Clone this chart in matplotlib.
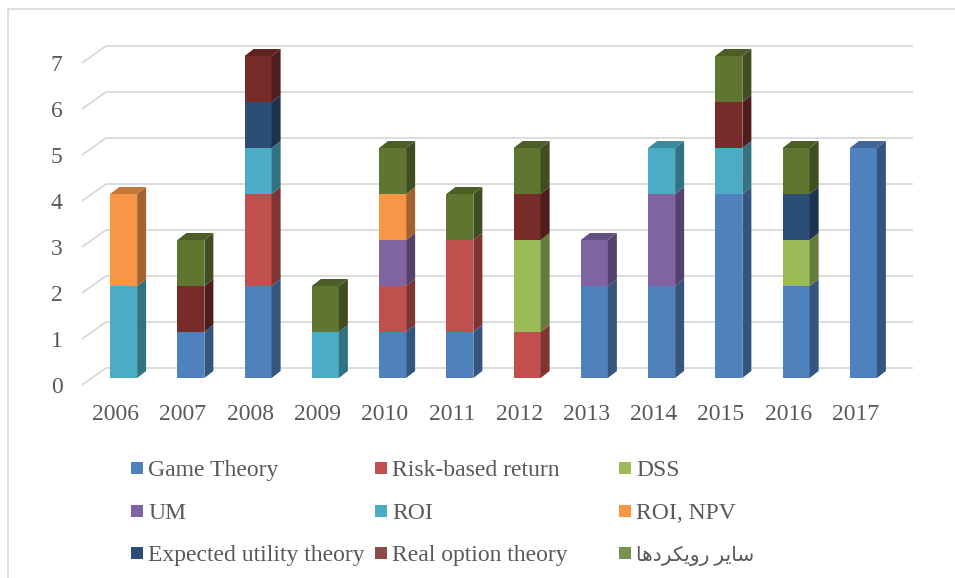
import matplotlib
matplotlib.use("Agg")
import matplotlib.pyplot as plt
from matplotlib.patches import Polygon, Rectangle
import numpy as np

# ---------------- data ----------------
years = ["2006", "2007", "2008", "2009", "2010", "2011",
         "2012", "2013", "2014", "2015", "2016", "2017"]
series_names = ["Game Theory", "Risk-based return", "DSS",
                "UM", "ROI", "ROI, NPV",
                "Expected utility theory", "Real option theory",
                "سایر رویکردها"]
game_theory = [0, 1, 2, 0, 1, 1, 0, 2, 2, 4, 2, 5]
risk_based  = [0, 0, 2, 0, 1, 2, 1, 0, 0, 0, 0, 0]
dss         = [0, 0, 0, 0, 0, 0, 2, 0, 0, 0, 1, 0]
um          = [0, 0, 0, 0, 1, 0, 0, 1, 2, 0, 0, 0]
roi         = [2, 0, 1, 1, 0, 0, 0, 0, 1, 1, 0, 0]
roi_npv     = [2, 0, 0, 0, 1, 0, 0, 0, 0, 0, 0, 0]
expected    = [0, 0, 1, 0, 0, 0, 0, 0, 0, 0, 1, 0]
real_option = [0, 1, 1, 0, 0, 0, 1, 0, 0, 1, 0, 0]
other       = [0, 1, 0, 1, 1, 1, 1, 0, 0, 1, 1, 0]
y_ticks = [0, 1, 2, 3, 4, 5, 6, 7]

series_values = [game_theory, risk_based, dss, um, roi, roi_npv,
                 expected, real_option, other]
colors = ["#4F81BD", "#C0504D", "#9BBB59", "#8064A2", "#4BACC6",
          "#F79646", "#2C4D75", "#772C2A", "#5F7530"]
legend_colors = ["#4F81BD", "#C0504D", "#9BBB59", "#8064A2", "#4BACC6",
                 "#F79646", "#2C4D75", "#8C4A48", "#77924F"]

# Persian label shaped into presentation forms (visual order) since
# matplotlib performs no Arabic shaping / bidi reordering
persian_visual = ("\uFE8E\uFEEB\uFEA9\uFEAE\uFB91\uFBFE\uFEED\uFEAD"
                  " \uFEAE\uFBFE\uFE8E\uFEB3")
display_names = series_names[:-1] + [persian_visual]

# ---------------- style ----------------
W, H = 955, 578
FONT = ["Liberation Serif", "DejaVu Sans"]
TXT = "#595959"
GRID = "#D9D9D9"
FS = 17
plt.rcParams["font.family"] = FONT

fig = plt.figure(figsize=(W / 100, H / 100), dpi=100)
fig.patch.set_facecolor("white")

# outer chart border
fig.patches.append(Rectangle((8 / W, -0.1), 2.0, 1 - 9 / H + 0.1,
                             transform=fig.transFigure, fill=False,
                             ec=GRID, lw=1.2))

ax_left, ax_right = 82, 889
ax_bottom, ax_top = 385, 40
ax = fig.add_axes([ax_left / W, (H - ax_bottom) / H,
                   (ax_right - ax_left) / W, (ax_bottom - ax_top) / H])
n = len(years)
ax.set_xlim(-0.5, n - 0.5)
ax.set_ylim(0, 7.5)
PX_X = (ax_right - ax_left) / n          # px per x unit
PX_Y = (ax_bottom - ax_top) / 7.5        # px per y unit

for s in ax.spines.values():
    s.set_visible(False)
ax.set_facecolor("none")

# back-wall offset (pseudo 3D)
bx, by = 24 / PX_X, 17 / PX_Y
for v in y_ticks:
    ax.plot([-0.5, -0.5 + bx], [v, v + by], color=GRID, lw=1.3,
            clip_on=False, zorder=1, solid_capstyle="butt")
    ax.plot([-0.5 + bx, n - 0.5 + bx], [v + by, v + by], color=GRID,
            lw=1.3, clip_on=False, zorder=1, solid_capstyle="butt")

# bars
fx, fy = 8 / PX_X, 7 / PX_Y          # front face offset
bw = 27 / PX_X                       # bar width
dx, dy = 9 / PX_X, 7 / PX_Y          # depth of bar


def shade(c, f):
    r, g, b = matplotlib.colors.to_rgb(c)
    return (r * f, g * f, b * f)


x = np.arange(n)
bottoms = np.zeros(n)
totals = np.sum(np.array(series_values), axis=0)
for j, vals in enumerate(series_values):
    vals = np.array(vals, dtype=float)
    c = colors[j]
    z = 3 + j
    ax.bar(x + fx, vals, width=bw, bottom=bottoms + fy, color=c,
           linewidth=0, zorder=z)
    for i in range(n):
        if vals[i] <= 0:
            continue
        L = x[i] + fx - bw / 2
        R = x[i] + fx + bw / 2
        b = bottoms[i] + fy
        t = bottoms[i] + vals[i] + fy
        ax.add_patch(Polygon([(R, b), (R + dx, b + dy), (R + dx, t + dy),
                              (R, t)], closed=True, fc=shade(c, 0.66),
                             lw=0, zorder=z))
        if np.isclose(bottoms[i] + vals[i], totals[i]):
            ax.add_patch(Polygon([(L, t), (R, t), (R + dx, t + dy),
                                  (L + dx, t + dy)], closed=True,
                                 fc=shade(c, 0.8), lw=0, zorder=z + 20))
    bottoms = bottoms + vals

# ticks
ax.set_xticks(x)
ax.set_xticklabels(years)
ax.set_yticks(y_ticks)
ax.set_yticklabels([str(v) for v in y_ticks])
ax.tick_params(axis="x", length=0, pad=13.5, labelsize=FS, colors=TXT)
ax.tick_params(axis="y", length=0, pad=14, labelsize=FS, colors=TXT)

# legend (3 x 3 grid, equal column widths)
col_x = [131, 375, 619]
row_y = [468, 511, 553]
sq = 12
for k, name in enumerate(display_names):
    r, cidx = divmod(k, 3)
    mx, my = col_x[cidx], row_y[r]
    fig.patches.append(Rectangle((mx / W, (H - my - sq / 2) / H),
                                 sq / W, sq / H,
                                 transform=fig.transFigure,
                                 fc=legend_colors[k], lw=0))
    fs = FS if k < 8 else 14.5
    fig.text((mx + sq + 5) / W, (H - my) / H, name, ha="left",
             va="center_baseline", fontsize=fs, color=TXT, family=FONT)

fig.savefig("out.png", dpi=100, facecolor="white")
